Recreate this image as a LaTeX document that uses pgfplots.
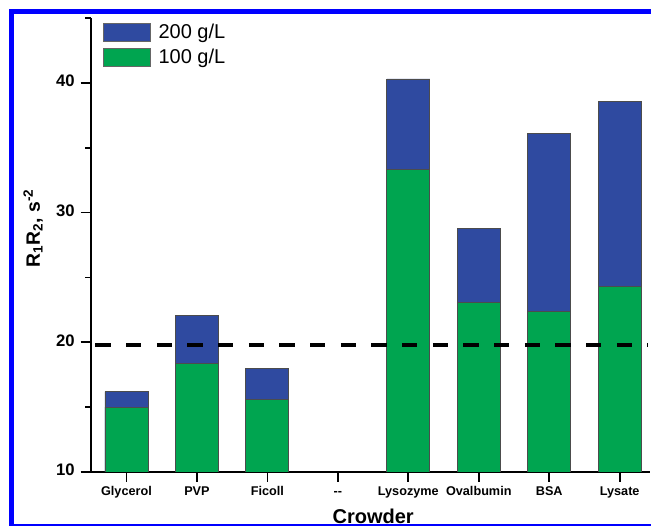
\documentclass[border=0pt]{standalone}
\usepackage{fontspec}
\setmainfont{Liberation Sans}
\usepackage{pgfplots}
\pgfplotsset{compat=1.18}
\definecolor{barblue}{RGB}{47,74,160}
\definecolor{bargreen}{RGB}{0,165,80}
\definecolor{framblue}{RGB}{0,0,255}
\begin{document}
\begin{tikzpicture}
\useasboundingbox (0,0) rectangle (488.25pt,396pt);
\begin{axis}[
  at={(68pt,42pt)}, anchor=south west,
  scale only axis, width=419.5pt, height=340.5pt,
  xmin=-0.508, xmax=7.43, ymin=10, ymax=45,
  axis x line=bottom, axis y line=left,
  axis line style={-, line width=1.5pt},
  xtick={0,1,2,3,4,5,6,7},
  xticklabels={Glycerol,PVP,Ficoll,-{}-,Lysozyme,Ovalbumin,BSA,Lysate},
  typeset ticklabels with strut,
  ytick={10,20,30,40}, minor ytick={15,25,35,45},
  tick align=outside,
  major tick length=7.5pt, minor tick length=4pt,
  tick style={line width=1.3pt, black},
  /pgf/number format/assume math mode=true,
  yticklabel style={font=\fontsize{12.5}{14}\selectfont\bfseries, xshift=-1pt},
  xticklabel style={font=\fontsize{9.5}{11}\selectfont\bfseries, yshift=1pt},
  xlabel={Crowder},
  xlabel style={at={(axis description cs:0.505,-0.113)}, anchor=base, font=\fontsize{15}{17}\selectfont\bfseries},
  ylabel={R\textsubscript{1}R\textsubscript{2}, s\textsuperscript{-2}},
  ylabel style={at={(axis description cs:-0.103,0.537)}, anchor=center, font=\fontsize{14.5}{16}\selectfont\bfseries},
  clip=true,
  legend style={at={(axis description cs:0.022,0.993)}, anchor=north west, draw=none, fill=none,
    font=\fontsize{15}{17}\selectfont, inner sep=0pt, row sep=2.5pt,
    /tikz/every odd column/.append style={column sep=4pt}},
  legend cell align=left,
  legend image code/.code={\draw[#1, draw=black!60, line width=0.5pt] (0pt,-6.75pt) rectangle (35pt,6.75pt);},
]
\addplot[ybar, bar width=0.61, bar shift=0pt, fill=barblue, draw=black!70, line width=0.6pt]
  coordinates {(0,16.2) (1,22.1) (2,18.0) (4,40.3) (5,28.8) (6,36.1) (7,38.6)};
\addlegendentry{200 g/L}
\addplot[ybar, bar width=0.61, bar shift=0pt, fill=bargreen, draw=black!70, line width=0.6pt]
  coordinates {(0,15.0) (1,18.4) (2,15.6) (4,33.3) (5,23.1) (6,22.4) (7,24.3)};
\addlegendentry{100 g/L}
\addplot[black, line width=2.6pt, dash pattern=on 11.5pt off 11.5pt, forget plot]
  coordinates {(-0.44,19.8) (7.4,19.8)};
\end{axis}
\begin{scope}[x=0.75pt,y=0.75pt]
  \fill[framblue] (9,{528-9}) rectangle (651,{528-14});
  \fill[framblue] (9,{528-9}) rectangle (14,{528-526});
  \fill[framblue] (9,{528-524.5}) rectangle (651,{528-526});
\end{scope}
\end{tikzpicture}
\end{document}
